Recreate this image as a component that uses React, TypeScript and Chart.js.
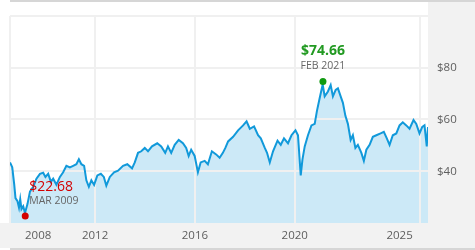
import React, { useEffect, useRef } from "react";
import { Chart, registerables } from "chart.js";

Chart.register(...registerables);

// Decimal years of the sampled closes
const years: number[] = [
  2008.59, 2008.68, 2008.76, 2008.81, 2008.89, 2008.95, 2009.0, 2009.05, 2009.12, 2009.19,
  2009.29, 2009.39, 2009.52, 2009.65, 2009.79, 2009.92, 2010.01, 2010.12, 2010.23, 2010.32,
  2010.45, 2010.59, 2010.72, 2010.85, 2010.99, 2011.12, 2011.25, 2011.35, 2011.45, 2011.56,
  2011.65, 2011.75, 2011.85, 2011.96, 2012.09, 2012.23, 2012.35, 2012.45, 2012.59, 2012.76,
  2012.92, 2013.12, 2013.29, 2013.48, 2013.59, 2013.72, 2013.85, 2013.99, 2014.12, 2014.28,
  2014.49, 2014.65, 2014.81, 2014.92, 2015.05, 2015.19, 2015.35, 2015.52, 2015.65, 2015.75,
  2015.85, 2015.99, 2016.12, 2016.23, 2016.39, 2016.52, 2016.68, 2016.85, 2016.99, 2017.12,
  2017.22, 2017.33, 2017.53, 2017.73, 2017.93, 2018.07, 2018.2, 2018.37, 2018.53, 2018.64,
  2018.8, 2018.89, 2019.0, 2019.13, 2019.31, 2019.44, 2019.57, 2019.73, 2019.87, 2020.03,
  2020.13, 2020.24, 2020.31, 2020.4, 2020.53, 2020.67, 2020.8, 2020.89, 2021.0, 2021.12,
  2021.2, 2021.33, 2021.44, 2021.53, 2021.64, 2021.73, 2021.84, 2021.93, 2022.03, 2022.13,
  2022.24, 2022.33, 2022.43, 2022.53, 2022.67, 2022.77, 2022.87, 2023.0, 2023.13, 2023.27,
  2023.44, 2023.57, 2023.69, 2023.8, 2023.93, 2024.07, 2024.2, 2024.33, 2024.47, 2024.6,
  2024.76, 2024.87, 2025.0, 2025.11, 2025.2, 2025.29, 2025.34,
];

// Price in dollars
const prices: number[] = [
  43.4, 41.5, 34.8, 29.6, 28.4, 25.9, 29.2, 25.4, 26.5, 23.9,
  27.3, 32.1, 34.0, 37.1, 39.0, 39.4, 37.8, 39.0, 35.9, 37.1,
  34.8, 37.8, 39.6, 42.1, 41.5, 42.1, 42.7, 44.6, 42.7, 42.1,
  36.5, 34.0, 36.5, 34.7, 38.4, 39.0, 37.8, 34.4, 37.8, 39.6,
  40.2, 42.1, 42.7, 41.1, 43.4, 47.1, 47.7, 49.0, 47.7, 49.6,
  50.8, 49.6, 47.1, 49.6, 47.1, 50.2, 52.1, 50.8, 49.0, 45.9,
  48.3, 45.9, 39.6, 43.4, 44.0, 42.7, 47.7, 46.5, 45.2, 47.1,
  49.0, 51.5, 53.3, 55.8, 57.7, 59.3, 56.4, 57.3, 53.9, 52.7,
  49.0, 47.1, 43.4, 47.7, 51.8, 50.2, 52.7, 50.8, 53.9, 55.8,
  53.9, 38.4, 44.6, 49.6, 53.9, 57.7, 58.3, 63.3, 68.3, 73.5,
  68.9, 70.8, 73.3, 68.9, 71.4, 72.0, 68.9, 66.4, 61.4, 58.3,
  52.1, 53.9, 49.0, 50.2, 47.1, 44.0, 48.3, 50.2, 53.3, 53.9,
  54.6, 55.2, 52.7, 50.2, 53.9, 54.6, 57.7, 58.9, 57.7, 56.4,
  59.8, 58.3, 54.6, 57.1, 57.7, 49.6, 57.1,
];

// Extremes
const lowYear = 2009.2;
const lowPrice = 22.68;
const lowLabel = "MAR 2009";
const highYear = 2021.13;
const highPrice = 74.66;
const highLabel = "FEB 2021";

// Axes
const xMin = 2008.59;
const xMax = 2025.34;
const xGridYears: number[] = [2008.59, 2012, 2016, 2020, 2025];
const xLabelYears: number[] = [2009.72, 2012, 2016, 2020, 2024.2];
const xLabelTexts: string[] = ["2008", "2012", "2016", "2020", "2025"];
const yTicks: number[] = [20, 40, 60, 80, 100];
const yLabelled: number[] = [40, 60, 80];

const FONT = "'Open Sans', 'Noto Sans', sans-serif";
const GRID = "#f0f0f0";

export default function App() {
  const ref = useRef<HTMLCanvasElement | null>(null);

  useEffect(() => {
    if (!ref.current) return;
    const pts = years.map((x, i) => ({ x, y: prices[i] }));
    const xTickValues = Array.from(new Set([...xGridYears, ...xLabelYears])).sort((a, b) => a - b);

    const gridOverFill = {
      id: "gridOverFill",
      afterDatasetDraw(chart: any, args: any) {
        if (args.index !== 0) return;
        chart.ctx.save();
        chart.scales.x.drawGrid(chart.chartArea);
        chart.scales.y.drawGrid(chart.chartArea);
        chart.ctx.restore();
      },
    };

    const extremeLabels = {
      id: "extremeLabels",
      afterDatasetsDraw(chart: any) {
        const ctx = chart.ctx;
        const xs = chart.scales.x;
        const ys = chart.scales.y;
        ctx.save();
        // high
        const hx = xs.getPixelForValue(highYear);
        const hy = ys.getPixelForValue(highPrice);
        ctx.textAlign = "center";
        ctx.textBaseline = "alphabetic";
        ctx.fillStyle = "#229a22";
        ctx.font = `bold 14px ${FONT}`;
        ctx.fillText("$" + highPrice.toFixed(2), hx, hy - 26);
        ctx.fillStyle = "#666666";
        ctx.font = `10.5px ${FONT}`;
        ctx.fillText(highLabel, hx, hy - 12);
        // low
        const lx = xs.getPixelForValue(lowYear);
        const ly = ys.getPixelForValue(lowPrice);
        ctx.textAlign = "left";
        ctx.fillStyle = "#d40000";
        ctx.font = `14px ${FONT}`;
        ctx.fillText("$" + lowPrice.toFixed(2), lx + 4, ly - 25);
        ctx.fillStyle = "#666666";
        ctx.font = `10.5px ${FONT}`;
        ctx.fillText(lowLabel, lx + 4, ly - 12);
        ctx.restore();
      },
    };

    const chart = new Chart(ref.current, {
      type: "line",
      data: {
        datasets: [
          {
            data: pts,
            fill: "start",
            backgroundColor: "#cce9f7",
            borderWidth: 0,
            pointRadius: 0,
            order: 3,
          },
          {
            data: pts,
            fill: false,
            borderColor: "#1199da",
            borderWidth: 2,
            pointRadius: 0,
            tension: 0,
            order: 2,
          },
          {
            data: [
              { x: lowYear, y: lowPrice },
              { x: highYear, y: highPrice },
            ],
            showLine: false,
            pointRadius: 3.5,
            pointBorderWidth: 0,
            pointBackgroundColor: ["#d40000", "#119a11"],
            order: 1,
            clip: false as any,
          },
        ],
      },
      options: {
        responsive: false,
        animation: false,
        events: [],
        layout: { padding: { left: 10, top: 10, right: 0, bottom: 0 } },
        plugins: { legend: { display: false }, tooltip: { enabled: false } },
        scales: {
          x: {
            type: "linear",
            min: xMin,
            max: xMax,
            afterBuildTicks: (s: any) => {
              s.ticks = xTickValues.map((v) => ({ value: v }));
            },
            afterFit: (s: any) => {
              s.height = 27;
            },
            border: { display: false },
            grid: {
              lineWidth: 2,
              drawTicks: false,
              color: (c: any) =>
                c.tick && xGridYears.includes(c.tick.value) ? GRID : "rgba(0,0,0,0)",
            },
            ticks: {
              autoSkip: false,
              maxRotation: 0,
              padding: 6,
              color: "#5e5e5e",
              font: { family: FONT, size: 11.5 },
              callback: (v: any) => {
                const i = xLabelYears.indexOf(Number(v));
                return i >= 0 ? xLabelTexts[i] : "";
              },
            },
          },
          y: {
            type: "linear",
            position: "right",
            min: 20,
            max: 100,
            afterBuildTicks: (s: any) => {
              s.ticks = yTicks.map((v) => ({ value: v }));
            },
            afterFit: (s: any) => {
              s.width = 47;
            },
            border: { display: false },
            grid: {
              lineWidth: 2,
              drawTicks: false,
              color: (c: any) => (c.tick && c.tick.value > 20 ? GRID : "rgba(0,0,0,0)"),
            },
            ticks: {
              padding: 9,
              color: "#5e5e5e",
              font: { family: FONT, size: 11.5 },
              callback: (v: any) => (yLabelled.includes(Number(v)) ? "$" + v : ""),
            },
          },
        },
      },
      plugins: [gridOverFill, extremeLabels],
    });
    return () => chart.destroy();
  }, []);

  const abs = (s: React.CSSProperties): React.CSSProperties => ({ position: "absolute", ...s });

  return (
    <div style={abs({ left: 0, top: 0, width: 475, height: 250, background: "#ffffff", overflow: "hidden" })}>
      <div style={abs({ left: 10, top: 0, width: 465, height: 2, background: "#d6d6d6" })} />
      <div style={abs({ left: 428, top: 2, width: 47, height: 245, background: "#f2f2f2" })} />
      <div style={abs({ left: 0, top: 223, width: 475, height: 25, background: "#f2f2f2" })} />
      <div style={abs({ left: 10, top: 248, width: 465, height: 2, background: "#d6d6d6" })} />
      <canvas ref={ref} width={475} height={250} style={abs({ left: 0, top: 0, width: 475, height: 250 })} />
    </div>
  );
}
